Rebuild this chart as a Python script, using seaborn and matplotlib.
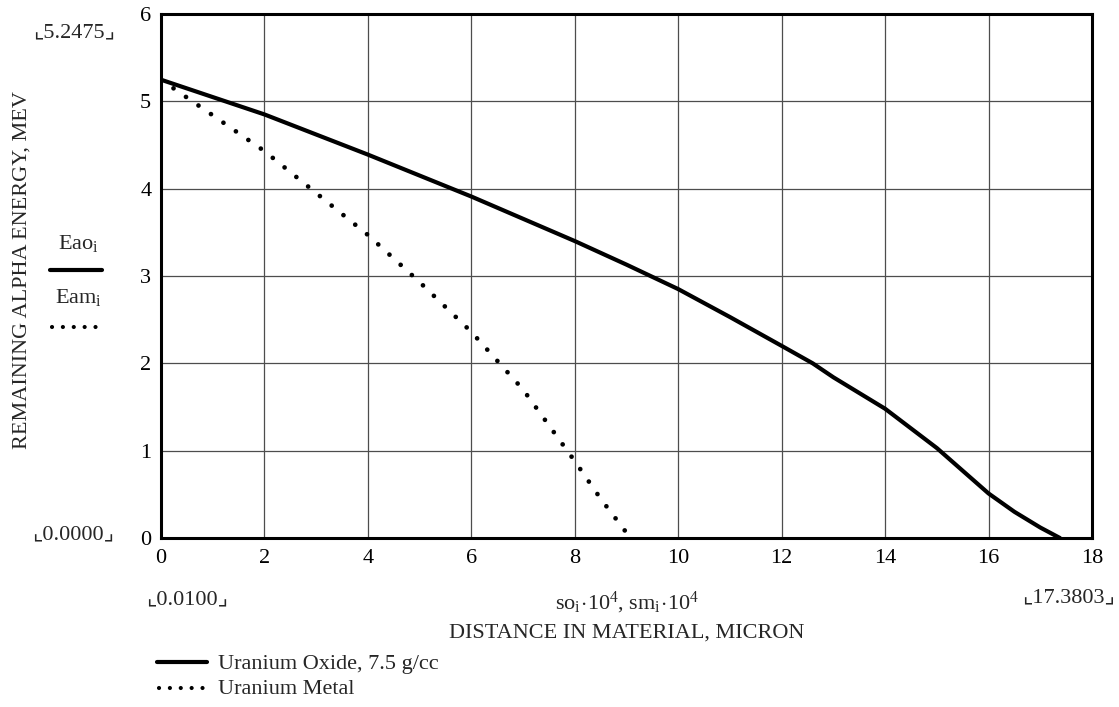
import numpy as np
import pandas as pd
import matplotlib
matplotlib.use("Agg")
import matplotlib.pyplot as plt
import seaborn as sns
from matplotlib.lines import Line2D

sns.set_theme(style="white")
plt.rcParams['font.family'] = ['Liberation Serif', 'DejaVu Sans']
plt.rcParams['mathtext.fontset'] = 'custom'
plt.rcParams['mathtext.rm'] = 'Liberation Serif'
plt.rcParams['mathtext.it'] = 'Liberation Serif:italic'

# 数据
# Uranium Oxide, 7.5 g/cc
oxide_x = [0.0, 2.0, 4.0, 6.0, 8.0, 9.0, 10.0, 11.0, 12.0, 12.6, 13.0, 14.0, 15.0, 16.0, 16.5, 17.0, 17.38]
oxide_y = [5.2475, 4.85, 4.39, 3.91, 3.40, 3.13, 2.85, 2.53, 2.20, 2.00, 1.84, 1.48, 1.03, 0.51, 0.30, 0.12, 0.0]

# Uranium Metal
metal_x = [0.0, 1.0, 2.0, 3.0, 4.0, 5.0, 6.0, 7.0, 8.0, 8.5, 9.0, 9.08]
metal_y = [5.2475, 4.84, 4.43, 3.95, 3.47, 2.93, 2.36, 1.70, 0.88, 0.45, 0.06, 0.0]

x_ticks = [0, 2, 4, 6, 8, 10, 12, 14, 16, 18]
y_ticks = [0, 1, 2, 3, 4, 5, 6]

df_o = pd.DataFrame({'s': oxide_x, 'E': oxide_y})
df_m = pd.DataFrame({'s': metal_x, 'E': metal_y})

W, H = 1119, 707
fig = plt.figure(figsize=(W / 100, H / 100), dpi=100)


def fx(px):
    return px / W


def fy(py):
    return 1 - py / H


ax = fig.add_axes([fx(161), fy(538), fx(1092 - 161), (538 - 14) / H])

dots = (0, (0.01, 3.2))

sns.lineplot(data=df_o, x='s', y='E', ax=ax, color='black', lw=3.0, sort=False)
sns.lineplot(data=df_m, x='s', y='E', ax=ax, color='black', lw=3.4, sort=False,
             linestyle=dots, dash_capstyle='round')

ax.set_xlim(0, 18)
ax.set_ylim(0, 6)
ax.set_xticks(x_ticks)
ax.set_yticks(y_ticks)
ax.set_xlabel('')
ax.set_ylabel('')
ax.grid(True, color='0.3', lw=0.9)
ax.tick_params(axis='both', length=0, labelsize=16, colors='black')
ax.tick_params(axis='x', pad=8)
ax.tick_params(axis='y', pad=7)
for sp in ax.spines.values():
    sp.set_visible(True)
    sp.set_color('black')
    sp.set_linewidth(2.2)

fs = 16
# 坐标轴标签
fig.text(fx(22), fy(270), 'REMAINING ALPHA ENERGY, MEV', rotation=90,
         ha='center', va='center', fontsize=fs)
fig.text(fx(627), fy(633), 'DISTANCE IN MATERIAL, MICRON', ha='center', va='center', fontsize=fs)
fig.text(fx(627), fy(603), r'so$_{\mathrm{i}}\!\cdot\!$10$^{4}$, sm$_{\mathrm{i}}\!\cdot\!$10$^{4}$',
         ha='center', va='center', fontsize=fs)

# Mathcad 范围标记
fig.text(fx(74), fy(33), '⌞5.2475⌟', ha='center', va='center', fontsize=fs)
fig.text(fx(73), fy(535), '⌞0.0000⌟', ha='center', va='center', fontsize=fs)
fig.text(fx(187), fy(600), '⌞0.0100⌟', ha='center', va='center', fontsize=fs)
fig.text(fx(1068), fy(598), '⌞17.3803⌟', ha='center', va='center', fontsize=fs)

# 左侧迹线标签
fig.text(fx(78), fy(243), r'Eao$_{\mathrm{i}}$', ha='center', va='center', fontsize=fs)
fig.add_artist(Line2D([fx(50), fx(102)], [fy(270), fy(270)], color='black', lw=3.0))
fig.text(fx(78), fy(298), r'Eam$_{\mathrm{i}}$', ha='center', va='center', fontsize=fs)
fig.add_artist(Line2D([fx(52), fx(100)], [fy(327), fy(327)], color='black', lw=3.0,
                      linestyle=(0, (0.01, 2.6)), dash_capstyle='round'))

# 底部图例
fig.add_artist(Line2D([fx(157), fx(207)], [fy(662), fy(662)], color='black', lw=3.0))
fig.text(fx(218), fy(664), 'Uranium Oxide, 7.5 g/cc', ha='left', va='center', fontsize=fs)
fig.add_artist(Line2D([fx(159), fx(205)], [fy(688), fy(688)], color='black', lw=3.0,
                      linestyle=(0, (0.01, 2.6)), dash_capstyle='round'))
fig.text(fx(218), fy(689), 'Uranium Metal', ha='left', va='center', fontsize=fs)

fig.savefig('out.png', dpi=100)
